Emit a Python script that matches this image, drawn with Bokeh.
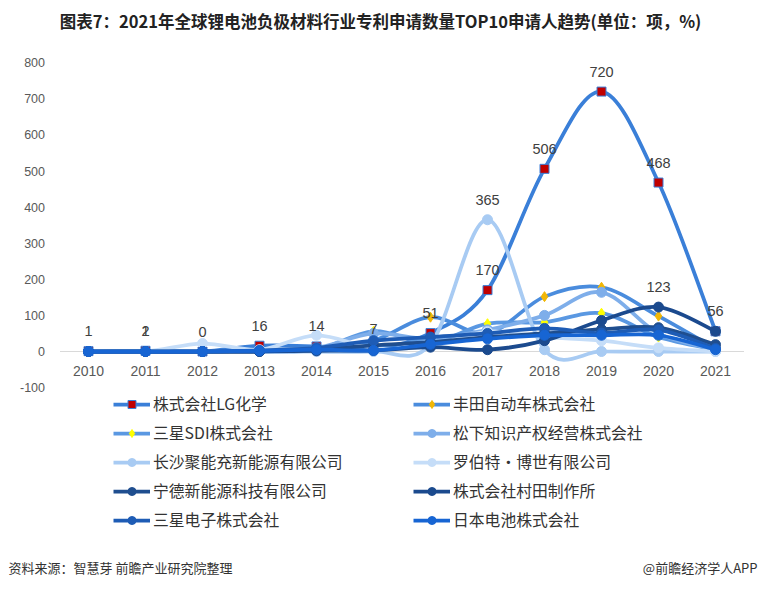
from bokeh.plotting import figure
from bokeh.models import Range1d, Legend, LegendItem, Label
from bokeh.embed import file_html
from bokeh.resources import INLINE
from bokeh.core.properties import value

years = [2010, 2011, 2012, 2013, 2014, 2015, 2016, 2017, 2018, 2019, 2020, 2021]
year_labels = [str(y) for y in years]
y_ticks = [-100, 0, 100, 200, 300, 400, 500, 600, 700, 800]

names = ["株式会社LG化学", "丰田自动车株式会社", "三星SDI株式会社", "松下知识产权经营株式会社",
         "长沙聚能充新能源有限公司", "罗伯特·博世有限公司", "宁德新能源科技有限公司",
         "株式会社村田制作所", "三星电子株式会社", "日本电池株式会社"]

lg       = [1, 2, 0, 16, 14, 7, 51, 170, 506, 720, 468, 56]
toyota   = [0, 0, 0, 5, 8, 30, 95, 50, 152, 178, 98, 8]
sdi      = [0, 1, 0, 0, 5, 56, 25, 77, 81, 106, 40, 5]
panasonic= [0, 0, 0, 3, 10, 50, 35, 60, 100, 164, 50, 5]
changsha = [0, 0, 0, 0, 0, 0, 20, 365, 5, 0, 0, 0]
bosch    = [0, 0, 22, 5, 45, 10, 15, 55, 40, 30, 10, 0]
ningde   = [0, 0, 0, 0, 5, 17, 26, 40, 50, 61, 66, 19]
murata   = [0, 0, 0, 0, 2, 3, 12, 5, 30, 86, 123, 56]
samsung  = [0, 0, 0, 3, 10, 30, 40, 50, 64, 51, 60, 8]
nihon    = [0, 0, 0, 2, 5, 3, 20, 35, 45, 45, 45, 5]

series = [lg, toyota, sdi, panasonic, changsha, bosch, ningde, murata, samsung, nihon]

# data labels: LG for all years, plus a few from other series
label_x = years + [2011, 2017, 2020]
label_v = lg + [sdi[1], changsha[7], murata[10]]

line_colors = ["#3A7FD8", "#4A8CDD", "#5A98E2", "#7EAEEA", "#A8CBF3", "#C5DDF8",
               "#1F4E8F", "#1B4A8E", "#1E5CB5", "#1765D3"]
markers = ["square", "diamond", "diamond", "circle", "circle", "circle",
           "circle", "circle", "circle", "circle"]
m_fill = ["#C00000", "#F2B705", "#FFFF00", "#7EAEEA", "#A8CBF3", "#C5DDF8",
          "#1F4E8F", "#1B4A8E", "#1E5CB5", "#1765D3"]
m_size = [9, 10, 10, 10, 10, 10, 10, 10, 10, 10]
leg_size = [7, 8, 8, 7, 7, 7, 7, 7, 7, 7]

FONT = "Noto Sans CJK SC"
NUMF = "Liberation Sans"

W, H = 760, 589
# pixel geometry of the plot area: 2010 at x=88, 57 px per year; y=0 at 351, 0.361 px per unit
x0_px, dx_px = 88.0, 57.0
y0_px, dy_px = 351.0, 0.361
x_lo = 2010 - x0_px / dx_px
x_hi = 2010 + (W - x0_px) / dx_px
y_hi = y0_px / dy_px
y_lo = -(H - y0_px) / dy_px

p = figure(width=W, height=H, output_backend="svg", toolbar_location=None,
           x_range=Range1d(x_lo, x_hi), y_range=Range1d(y_lo, y_hi),
           min_border_left=0, min_border_right=0, min_border_top=0, min_border_bottom=0)
p.outline_line_color = None
p.xgrid.visible = False
p.ygrid.visible = False
p.xaxis.visible = False
p.yaxis.visible = False
p.background_fill_color = "white"
p.border_fill_color = "white"

# horizontal axis line at zero across the plot area
p.segment(x0=[years[0] - 0.5], y0=[0], x1=[years[-1] + 0.5], y1=[0],
          line_color="#D9D9D9", line_width=1)

# value-axis tick labels
p.text(x=[years[0] - 0.5] * len(y_ticks), y=y_ticks, text=[str(t) for t in y_ticks],
       x_offset=-15, text_align="right", text_baseline="middle", text_font=value(NUMF),
       text_font_size="12.5px", text_color="#595959")


def bezier_parts(xs, ys):
    n = len(xs)
    px = [xs[0]] + list(xs) + [xs[-1]]
    py = [ys[0]] + list(ys) + [ys[-1]]
    out = dict(x0=[], y0=[], x1=[], y1=[], cx0=[], cy0=[], cx1=[], cy1=[])
    for i in range(1, n):
        out["x0"].append(px[i]); out["y0"].append(py[i])
        out["x1"].append(px[i + 1]); out["y1"].append(py[i + 1])
        out["cx0"].append(px[i] + (px[i + 1] - px[i - 1]) / 6.0)
        out["cy0"].append(py[i] + (py[i + 1] - py[i - 1]) / 6.0)
        out["cx1"].append(px[i + 1] - (px[i + 2] - px[i]) / 6.0)
        out["cy1"].append(py[i + 1] - (py[i + 2] - py[i]) / 6.0)
    return out

items = []
nan = float("nan")
for k, vals in enumerate(series):
    b = bezier_parts(years, vals)
    p.bezier(x0=b["x0"], y0=b["y0"], x1=b["x1"], y1=b["y1"],
             cx0=b["cx0"], cy0=b["cy0"], cx1=b["cx1"], cy1=b["cy1"],
             line_color=line_colors[k], line_width=3.75)
    mline = line_colors[k] if markers[k] != "diamond" else m_fill[k]
    p.scatter(x=years, y=vals, marker=markers[k], size=m_size[k],
              fill_color=m_fill[k], line_color=mline, line_width=1)
    lr = p.line(x=[nan, nan], y=[nan, nan], line_color=line_colors[k], line_width=3.75)
    ls = p.scatter(x=[nan], y=[nan], marker=markers[k], size=leg_size[k],
                   fill_color=m_fill[k], line_color=mline, line_width=1)
    items.append(LegendItem(label=names[k], renderers=[lr, ls]))

# data labels
p.text(x=label_x, y=label_v, text=[str(v) for v in label_v], y_offset=-20,
       text_align="center", text_baseline="middle", text_font=value(NUMF),
       text_font_size="14.5px", text_color="#404040")

# category labels along the zero line
p.text(x=years, y=[0] * len(years), text=year_labels, y_offset=19,
       text_align="center", text_baseline="middle", text_font=value(NUMF),
       text_font_size="14px", text_color="#595959")


def make_legend(its, x):
    return Legend(items=its, location=(x, 58), orientation="vertical",
                  glyph_width=37, glyph_height=20, label_height=20, spacing=6,
                  padding=0, margin=0, label_standoff=3,
                  label_text_font=FONT, label_text_font_size="15.8px",
                  label_text_color="#333333",
                  background_fill_alpha=0, border_line_alpha=0)

p.add_layout(make_legend(items[0::2], 113))
p.add_layout(make_legend(items[1::2], 413))

p.add_layout(Label(x=380, y=H - 20, x_units="screen", y_units="screen",
                   text="图表7：2021年全球锂电池负极材料行业专利申请数量TOP10申请人趋势(单位：项，%)",
                   text_align="center", text_baseline="middle", text_font=FONT,
                   text_font_size="16.5px", text_font_style="bold", text_color="#222222"))
p.add_layout(Label(x=8, y=H - 567, x_units="screen", y_units="screen",
                   text="资料来源：智慧芽 前瞻产业研究院整理",
                   text_align="left", text_baseline="middle", text_font=FONT,
                   text_font_size="13px", text_color="#333333"))
p.add_layout(Label(x=757, y=H - 567, x_units="screen", y_units="screen",
                   text="@前瞻经济学人APP",
                   text_align="right", text_baseline="middle", text_font=FONT,
                   text_font_size="13px", text_color="#333333"))

open("out.html", "w").write(file_html(p, INLINE))
